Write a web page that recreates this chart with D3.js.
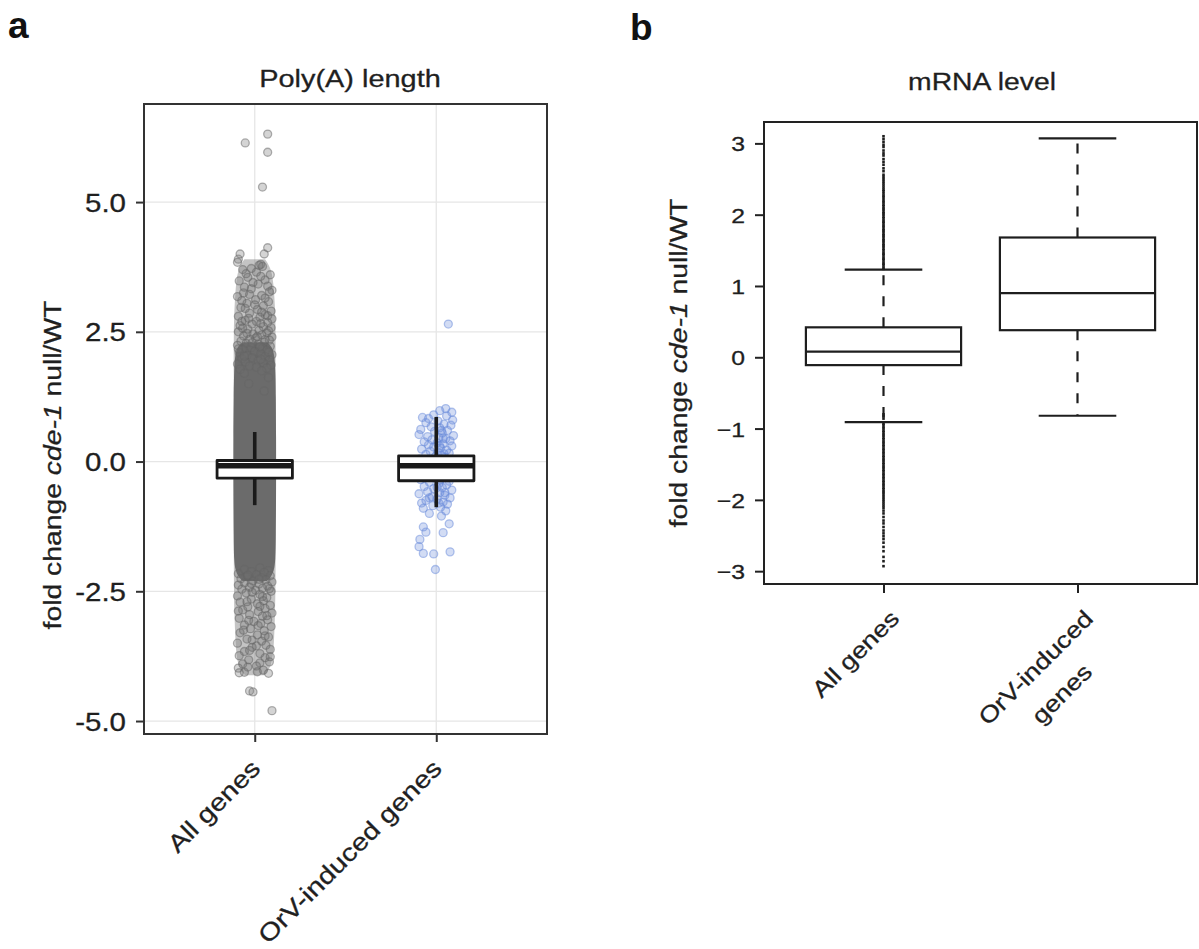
<!DOCTYPE html>
<html>
<head>
<meta charset="utf-8">
<script src="https://cdn.jsdelivr.net/npm/d3@7"></script>
<style>
  body { margin: 0; background: #fff; }
  svg { display: block; font-family: "Liberation Sans", Arial, Helvetica, sans-serif; }
</style>
</head>
<body>
<svg id="fig" width="1199" height="949"></svg>
<script>
// ---------- panel a data ----------
const categoriesA = ["All genes", "OrV-induced genes"];
const yTicksA = [-5, -2.5, 0, 2.5, 5];
const yTickLabelsA = ["-5.0", "-2.5", "0.0", "2.5", "5.0"];
// [lower whisker, q1, median, q3, upper whisker]
const boxStatsA = [
  [-0.84, -0.32, -0.08, 0.02, 0.57],
  [-0.88, -0.37, -0.08, 0.11, 0.86]
];
// "All genes" has thousands of overplotted points: a solid core and a half-dense haze round it
// level, half width (jitter units)
const coreLevels    = [2.3, 2.22, 2.05, 1.7, 1.3, 0.5, -0.5, -1.5, -1.9, -2.1, -2.22, -2.3];
const coreHalfWidth = [0.7, 1.0, 1.15, 1.2, 1.22, 1.24, 1.24, 1.22, 1.2, 1.12, 0.95, 0.7];
const hazeLevels    = [3.9, 3.7, 3.3, 2.8, 2.3, -2.3, -2.9, -3.5, -3.95, -4.12];
const hazeHalfWidth = [0.6, 1.0, 1.12, 1.2, 1.22, 1.22, 1.18, 1.12, 1.0, 0.55];
// sparse points of "All genes": [value, jitter]
const allGenesTail = [
  [6.31,.75],[6.14,-.55],[5.96,.75],[5.29,.45],[4.12,.75],[4.0,.55],[4.0,-.85],[3.9,-.95],[3.84,-1.0],
  [3.8,.35],[3.78,.25],[3.76,.45],[3.7,-.7],[3.65,.1],[3.6,.9],[3.55,-.4],[3.5,.6],[3.48,-.9],[3.42,.2],
  [3.38,.75],[3.33,-.2],[3.3,1.0],[3.25,-.65],[3.2,.4],[3.18,-1.0],[3.12,.05],[3.08,.8],[3.05,-.45],
  [3.0,.5],[2.97,-.8],[2.93,.15],[2.9,.95],[2.86,-.3],[2.83,.6],[2.8,-.95],[2.78,.3],[2.75,1.0],
  [2.72,-.55],[2.7,.1],[2.68,.75],[2.65,-.15],[2.62,-.85],[2.6,.5],[2.58,.95],[2.55,-.4],[2.53,.25],
  [2.5,-.95],[2.48,.7],[2.46,-.1],[2.44,.4],[2.42,-.65],[2.4,1.0],[2.38,.05],[2.36,-.3],[2.34,.85],
  [2.32,-.8],[2.3,.55],[2.28,-.5],[2.26,.2],[2.24,-1.0],[2.22,.9],[2.2,-.2],[2.18,.45],[2.16,-.7],
  [2.14,.7],[2.12,0],[2.1,-.9],[2.08,.35],[2.06,1.0],[2.04,-.45],[2.02,.6],[2.0,-.15],[1.98,-.75],
  [1.96,.85],[1.94,.2],[1.92,-.55],[1.9,.5],[1.88,-1.0],[1.86,.95],[1.84,-.3],[1.82,.1],[1.8,.7],
  [1.78,-.85],[1.75,.4],
  [3.72,-.2],[3.62,-.5],[3.57,.35],[3.45,-.1],[3.36,-.6],[3.27,.85],[3.22,-.3],[3.15,.6],[3.1,-.75],
  [3.02,.0],[2.95,-.55],[2.88,.4],[2.81,.75],[2.76,-.35],[2.7,-.75],[2.66,.35],[2.57,-.7],[2.52,.8],
  [2.47,-.45],[2.41,.15],[2.35,.6],[2.29,-.15],[2.21,.3],[2.17,-.95],[2.11,.8],[2.03,-.6],[1.97,.35],
  [1.7,-.6],[1.62,.8],[1.5,-.35],[1.36,.55],
  [-2.05,.3],[-2.08,-.6],[-2.1,.8],[-2.12,-.2],[-2.14,.55],[-2.16,-.95],[-2.18,.1],[-2.2,.9],
  [-2.22,-.45],[-2.24,.4],[-2.26,-.8],[-2.28,.65],[-2.3,-.1],[-2.32,1.0],[-2.34,-.6],[-2.36,.25],
  [-2.38,-.95],[-2.4,.75],[-2.42,-.3],[-2.44,.45],[-2.46,-.75],[-2.48,.05],[-2.5,.95],[-2.53,-.5],
  [-2.56,.3],[-2.59,-1.0],[-2.62,.7],[-2.65,-.2],[-2.68,.5],[-2.71,-.85],[-2.74,.15],[-2.77,.9],
  [-2.8,-.4],[-2.83,.6],[-2.86,-.7],[-2.89,.2],[-2.92,1.0],[-2.95,-.3],[-2.98,.45],[-3.02,-.9],
  [-3.05,.75],[-3.08,-.05],[-3.12,.35],[-3.15,-.6],[-3.18,.95],[-3.22,-.25],[-3.26,.55],[-3.3,-.85],
  [-3.34,.15],[-3.38,.8],[-3.42,-.45],[-3.46,.4],[-3.5,-1.0],[-3.54,.65],[-3.58,-.15],[-3.62,.9],
  [-3.66,-.6],[-3.7,.3],[-3.74,-.9],[-3.78,.6],[-3.82,-.35],[-3.86,.85],[-3.9,-.7],[-3.94,.1],
  [-3.98,-.95],[-4.02,.5],[-4.06,-.6],[-4.08,.8],
  [-2.19,-.4],[-2.27,.25],[-2.35,-.2],[-2.45,.85],[-2.52,-.15],[-2.6,.45],[-2.7,-.45],[-2.79,.3],
  [-2.88,-.95],[-2.97,.7],[-3.06,-.35],[-3.16,.2],[-3.25,-.65],[-3.36,.6],[-3.44,-.15],[-3.55,.1],
  [-3.64,-.3],[-3.76,.9],[-3.88,.3],[-3.96,-.4],[-4.05,.15],[-4.07,-.9],
  [-4.42,-.3],[-4.44,-.1],[-4.8,1.0]
];
// "OrV-induced genes": [value, jitter]
const orvPoints = [
  [2.65,.7],[1.02,.55],[0.98,.2],[0.95,.9],[0.9,-.15],[0.88,.6],[0.85,-.8],[0.83,-.45],[0.8,.95],
  [0.78,.1],[0.75,-.6],[0.72,.45],[0.7,.85],[0.67,-.3],[0.65,.2],[0.62,-.9],[0.6,.65],[0.58,-.1],
  [0.55,.35],[0.52,-1.0],[0.5,1.0],[0.48,-.5],[0.46,.15],[0.44,.55],[0.42,-.25],[0.4,.8],[0.38,-.7],
  [0.36,.05],[0.34,.4],[0.32,-.45],[0.3,.9],[0.28,-.15],[0.26,.25],[0.24,-.85],[0.22,.6],[0.2,-.35],
  [0.18,.1],[0.16,.75],[0.14,-.6],[0.12,.3],[0.1,-.05],[0.08,.5],[0.05,-.95],[0.02,.85],[0,-.2],
  [-0.02,.2],[-0.05,-.55],[-0.08,.65],[-0.1,0],[-0.12,-.8],[-0.15,.4],[-0.18,-.3],[-0.2,.95],
  [-0.22,.1],[-0.25,-.65],[-0.28,.55],[-0.3,-.1],[-0.32,.3],[-0.35,-.9],[-0.38,.75],[-0.4,-.4],
  [-0.42,.15],[-0.45,.6],[-0.48,-.7],[-0.5,.35],[-0.52,-.15],[-0.55,.9],[-0.58,-.5],[-0.6,.2],
  [-0.62,-1.0],[-0.65,.5],[-0.68,-.25],[-0.7,.8],[-0.72,.05],[-0.75,-.6],[-0.78,.4],[-0.8,-.85],
  [-0.82,.65],[-0.85,-.2],[-0.88,.25],[-0.9,-.75],[-0.95,.55],[-1.0,-.4],[-1.05,.3],[-1.2,.75],
  [-1.26,-.75],[-1.36,-.6],[-1.37,.4],[-1.5,-.95],[-1.64,-1.0],[-1.74,.8],[-1.77,-.75],[-1.78,-.15],
  [-2.08,-.05],
  [0.6,.3],[0.45,.4],[0.3,.2],[0.15,.45],[0.05,.1],[-0.05,.35],[-0.2,-.1],[-0.35,.25],[-0.5,.05],
  [-0.6,.5],[-0.7,-.4],[-0.8,.15]
];

// ---------- panel b data ----------
const categoriesB = ["All genes", "OrV-induced\ngenes"];
const yTicksB = [-3, -2, -1, 0, 1, 2, 3];
const yTickLabelsB = ["\u22123", "\u22122", "\u22121", "0", "1", "2", "3"];
const boxStatsB = [
  [-0.91, -0.11, 0.08, 0.42, 1.23],
  [-0.82, 0.38, 0.90, 1.68, 3.07]
];
const outliersAllGenesB = [
  1.24,1.26,1.29,1.31,1.33,1.36,1.38,1.4,1.43,1.45,1.47,1.5,1.52,1.55,1.57,1.59,1.62,1.64,1.66,1.69,
  1.71,1.73,1.76,1.78,1.8,1.83,1.85,1.88,1.9,1.92,1.95,1.97,2.0,2.02,2.04,2.07,2.09,2.12,2.14,2.17,
  2.19,2.22,2.25,2.27,2.3,2.33,2.35,2.38,2.41,2.44,2.47,2.5,2.53,2.56,2.61,2.65,2.7,2.74,2.78,2.83,
  2.86,2.9,2.95,2.98,3.02,3.06,3.1,
  -0.8,-0.83,-0.86,-0.93,-0.95,-0.98,-1.0,-1.03,-1.05,-1.08,-1.1,-1.13,-1.15,-1.18,-1.2,-1.23,-1.25,
  -1.28,-1.3,-1.33,-1.35,-1.38,-1.4,-1.43,-1.45,-1.48,-1.5,-1.53,-1.55,-1.58,-1.6,-1.63,-1.65,-1.68,
  -1.7,-1.73,-1.75,-1.78,-1.8,-1.83,-1.85,-1.88,-1.9,-1.93,-1.96,-1.99,-2.02,-2.05,-2.08,-2.11,-2.15,
  -2.19,-2.24,-2.29,-2.33,-2.38,-2.43,-2.47,-2.51,-2.55,-2.6,-2.66,-2.72,-2.8,-2.86,-2.93
];

const svg = d3.select("#fig");
const SX = 1.18; // glyphs in the figure are wider than Arial
const INK = "#1f1f1f";

function label(g, x, y, parts, o) {
  const t = g.append("text")
    .attr("transform", `translate(${x},${y}) rotate(${o.rotate || 0}) scale(${o.sx || SX},1)`)
    .attr("text-anchor", o.anchor || "middle")
    .attr("font-size", o.size)
    .attr("font-weight", o.weight || null)
    .attr("fill", o.color || INK)
    .attr("stroke", o.weight ? null : (o.color || INK)).attr("stroke-width", 0.3);
  parts.forEach(p => t.append("tspan").attr("font-style", p.italic ? "italic" : null).text(p.text));
  return t;
}

// ================= panel a =================
const A = { left: 144, right: 547, top: 104, bottom: 734 };
const yA = d3.scaleLinear().domain([-5.25, 6.89]).range([A.bottom, A.top]);
const xA = d3.scalePoint().domain(categoriesA).range([A.left, A.right]).padding(0.61);
const jitA = d3.scaleLinear().domain([-1, 1]).range([-0.095 * xA.step(), 0.095 * xA.step()]);
const ga = svg.append("g");

// grid
ga.append("g").selectAll("line").data(yTicksA).join("line")
  .attr("x1", A.left).attr("x2", A.right).attr("y1", d => yA(d)).attr("y2", d => yA(d))
  .attr("stroke", "#e6e6e6").attr("stroke-width", 1.3);
ga.append("g").selectAll("line").data(categoriesA).join("line")
  .attr("x1", d => xA(d)).attr("x2", d => xA(d)).attr("y1", A.top).attr("y2", A.bottom)
  .attr("stroke", "#e6e6e6").attr("stroke-width", 1.3);

function band(levels, half) {
  const cx = xA(categoriesA[0]);
  return d3.area()
    .y(d => yA(d[0]))
    .x0(d => cx - jitA(d[1]))
    .x1(d => cx + jitA(d[1]))
    .curve(d3.curveBasis)(levels.map((v, i) => [v, half[i]]));
}
ga.append("path").attr("d", band(hazeLevels, hazeHalfWidth)).attr("fill", "#8a8a8a").attr("fill-opacity", 0.5);
ga.append("path").attr("d", band(coreLevels, coreHalfWidth)).attr("fill", "#6b6b6b");

ga.append("g").selectAll("circle").data(allGenesTail).join("circle")
  .attr("cx", d => xA(categoriesA[0]) + jitA(d[1]))
  .attr("cy", d => yA(d[0]))
  .attr("r", 4)
  .attr("fill", "#707070").attr("fill-opacity", 0.3)
  .attr("stroke", "#666").attr("stroke-opacity", 0.5).attr("stroke-width", 1.3);

ga.append("g").selectAll("circle").data(orvPoints).join("circle")
  .attr("cx", d => xA(categoriesA[1]) + jitA(d[1]))
  .attr("cy", d => yA(d[0]))
  .attr("r", 4)
  .attr("fill", "#6a8cdb").attr("fill-opacity", 0.3)
  .attr("stroke", "#6a8cdb").attr("stroke-opacity", 0.5).attr("stroke-width", 1.3);

// boxes
const halfA = 0.415 * xA.step() / 2;
boxStatsA.forEach((s, i) => {
  const cx = xA(categoriesA[i]);
  const b = ga.append("g").attr("stroke", "#1a1a1a").attr("stroke-width", 2.8);
  b.append("line").attr("x1", cx).attr("x2", cx).attr("y1", yA(s[3])).attr("y2", yA(s[4])).attr("stroke-width", 3.6);
  b.append("line").attr("x1", cx).attr("x2", cx).attr("y1", yA(s[1])).attr("y2", yA(s[0])).attr("stroke-width", 3.6);
  b.append("rect").attr("x", cx - halfA).attr("width", 2 * halfA)
    .attr("y", yA(s[3])).attr("height", yA(s[1]) - yA(s[3]))
    .attr("fill", "#fff").attr("stroke-linejoin", "round");
  b.append("line").attr("x1", cx - halfA).attr("x2", cx + halfA)
    .attr("y1", yA(s[2])).attr("y2", yA(s[2])).attr("stroke-width", 5.6);
});

// frame and axes
ga.append("rect").attr("x", A.left).attr("y", A.top)
  .attr("width", A.right - A.left).attr("height", A.bottom - A.top)
  .attr("fill", "none").attr("stroke", "#333").attr("stroke-width", 2);

const axA = ga.append("g").attr("transform", `translate(${A.left},0)`)
  .call(d3.axisLeft(yA).tickValues(yTicksA).tickFormat((d, i) => yTickLabelsA[i]).tickSize(8).tickPadding(9));
axA.select(".domain").remove();
axA.selectAll(".tick line").attr("stroke", "#333").attr("stroke-width", 2);
axA.selectAll(".tick text")
  .attr("x", null).attr("dy", "0.36em")
  .attr("transform", `translate(-18,0) scale(${SX},1)`)
  .attr("font-size", 25).attr("font-family", null).attr("fill", INK)
  .attr("stroke", INK).attr("stroke-width", 0.3);

const axAx = ga.append("g").attr("transform", `translate(0,${A.bottom})`)
  .call(d3.axisBottom(xA).tickSize(8).tickFormat(""));
axAx.select(".domain").remove();
axAx.selectAll(".tick line").attr("stroke", "#333").attr("stroke-width", 2);

categoriesA.forEach(c => {
  label(ga, xA(c) + 7, 770, [{ text: c }], { size: 24.5, rotate: -45, anchor: "end" });
});

label(ga, 350, 87, [{ text: "Poly(A) length" }], { size: 24.5 });
label(ga, 61, 465, [{ text: "fold change " }, { text: "cde-1", italic: true }, { text: " null/WT" }],
  { size: 24, rotate: -90 });
label(ga, 8, 38, [{ text: "a" }], { size: 37, weight: "bold", sx: 1, anchor: "start", color: "#111" });

// ================= panel b =================
const B = { left: 764, right: 1197, top: 122, bottom: 584 };
const yB = d3.scaleLinear().domain([-3.18, 3.30]).range([B.bottom, B.top]);
const xB = d3.scalePoint().domain(categoriesB).range([B.left, B.right]).padding(0.616);
const gb = svg.append("g");
const halfB = 0.8 * xB.step() / 2;

boxStatsB.forEach((s, i) => {
  const cx = xB(categoriesB[i]);
  const b = gb.append("g").attr("stroke", "#1e1e1e").attr("stroke-width", 2.2).attr("fill", "none");
  b.append("line").attr("x1", cx).attr("x2", cx).attr("y1", yB(s[3])).attr("y2", yB(s[4])).attr("stroke-dasharray", "10,11");
  b.append("line").attr("x1", cx).attr("x2", cx).attr("y1", yB(s[1])).attr("y2", yB(s[0])).attr("stroke-dasharray", "10,11");
  [s[0], s[4]].forEach(w => {
    b.append("line").attr("x1", cx - halfB / 2).attr("x2", cx + halfB / 2).attr("y1", yB(w)).attr("y2", yB(w));
  });
  b.append("rect").attr("x", cx - halfB).attr("width", 2 * halfB)
    .attr("y", yB(s[3])).attr("height", yB(s[1]) - yB(s[3])).attr("fill", "#fff");
  b.append("line").attr("x1", cx - halfB).attr("x2", cx + halfB).attr("y1", yB(s[2])).attr("y2", yB(s[2]));
});

gb.append("g").selectAll("rect").data(outliersAllGenesB).join("rect")
  .attr("x", xB(categoriesB[0]) - 1.3).attr("width", 2.6)
  .attr("y", d => yB(d) - 1.3).attr("height", 2.6)
  .attr("fill", "#1e1e1e");

gb.append("rect").attr("x", B.left).attr("y", B.top)
  .attr("width", B.right - B.left).attr("height", B.bottom - B.top)
  .attr("fill", "none").attr("stroke", "#222").attr("stroke-width", 2);

const axB = gb.append("g").attr("transform", `translate(${B.left},0)`)
  .call(d3.axisLeft(yB).tickValues(yTicksB).tickFormat((d, i) => yTickLabelsB[i]).tickSize(9).tickPadding(10));
axB.select(".domain").remove();
axB.selectAll(".tick line").attr("stroke", "#222").attr("stroke-width", 2);
axB.selectAll(".tick text")
  .attr("x", null).attr("dy", "0.36em")
  .attr("transform", `translate(-19,0) scale(${SX},1)`)
  .attr("font-size", 21).attr("font-family", null).attr("fill", INK)
  .attr("stroke", INK).attr("stroke-width", 0.3);

const axBx = gb.append("g").attr("transform", `translate(0,${B.bottom})`)
  .call(d3.axisBottom(xB).tickSize(9).tickFormat(""));
axBx.select(".domain").remove();
axBx.selectAll(".tick line").attr("stroke", "#222").attr("stroke-width", 2);

categoriesB.forEach(c => {
  const lines = c.split("\n");
  const lg = gb.append("g")
    .attr("transform", `translate(${xB(c) + 17},620) rotate(-45) scale(${SX},1)`)
    .attr("font-size", 23).attr("fill", INK).attr("stroke", INK).attr("stroke-width", 0.3);
  const first = lg.append("text").attr("text-anchor", "end").text(lines[0]);
  const w = first.node().getComputedTextLength();
  lines.slice(1).forEach((ln, k) => {
    lg.append("text").attr("text-anchor", "middle").attr("x", -w / 2).attr("y", 37 * (k + 1)).text(ln);
  });
});

label(gb, 982, 90, [{ text: "mRNA level" }], { size: 24 });
label(gb, 687, 363, [{ text: "fold change " }, { text: "cde-1", italic: true }, { text: " null/WT" }],
  { size: 24, rotate: -90 });
label(gb, 630, 40, [{ text: "b" }], { size: 37, weight: "bold", sx: 1, anchor: "start", color: "#111" });
</script>
</body>
</html>
